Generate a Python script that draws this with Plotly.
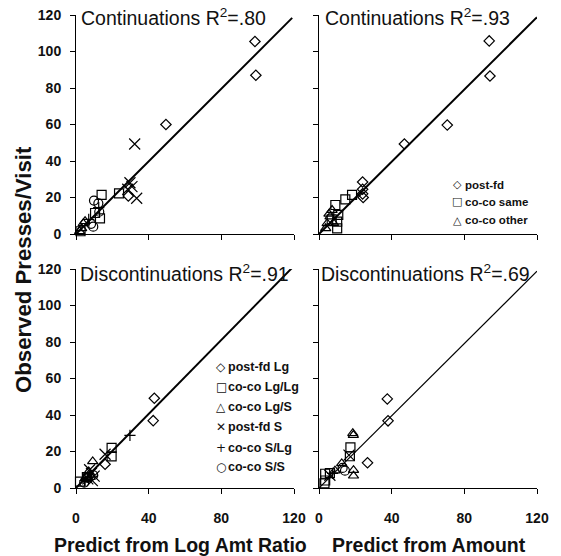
import plotly.graph_objects as go

# ---- data: predicted vs observed presses per visit ----
# Continuations, predicted from log amount ratio
cl_postfd_lg = ([98.5, 99.0, 49.5, 28.8], [105.5, 87.0, 60.0, 20.8])
cl_coco_lglg = ([14.1, 23.7, 13.2, 10.5, 2.5], [21.4, 22.3, 8.6, 11.5, 1.5])
cl_coco_lgs = ([4.0, 3.1, 5.0, 2.0], [5.8, 3.1, 7.0, 1.5])
cl_postfd_s = ([32.3, 29.7, 30.8, 33.4, 28.5], [49.3, 28.1, 26.0, 19.6, 24.5])
cl_coco_slg = ([12.5, 7.0], [14.5, 8.0])
cl_coco_ss = ([9.9, 12.3, 12.8, 9.5, 8.3], [18.3, 16.8, 12.2, 4.0, 5.6])

# Continuations, predicted from amount
ca_postfd = ([93.7, 94.1, 70.6, 47.0, 24.0, 24.0, 24.0, 24.3],
             [105.8, 86.6, 59.7, 49.3, 28.5, 24.5, 22.0, 20.0])
ca_coco_same = ([18.2, 14.5, 9.0, 10.6, 10.0, 10.0, 7.0],
                [21.4, 19.0, 15.9, 10.5, 6.8, 3.1, 8.0])
ca_coco_other = ([7.2, 6.1, 4.5, 3.7, 5.5, 8.0], [13.1, 9.5, 5.8, 3.1, 11.0, 6.0])

# Discontinuations, predicted from log amount ratio
dl_postfd_lg = ([43.1, 42.5, 16.0], [49.2, 36.9, 13.0])
dl_coco_lglg = ([19.6, 19.6, 2.2, 6.0], [22.0, 17.3, 3.5, 6.0])
dl_coco_lgs = ([9.2, 7.0, 5.5], [14.6, 9.0, 6.0])
dl_postfd_s = ([16.0, 8.5, 10.0, 6.5, 7.5, 9.0], [18.5, 8.0, 6.5, 5.0, 10.0, 4.0])
dl_coco_slg = ([29.7, 8.0, 5.0], [28.8, 6.0, 4.0])
dl_coco_ss = ([9.5, 6.5, 4.5], [7.0, 5.5, 3.0])

# Discontinuations, predicted from amount
da_postfd_lg = ([37.6, 38.0, 26.7], [48.8, 36.8, 13.8])
da_coco_lglg = ([17.3, 17.0, 3.4, 3.4, 6.0, 3.0], [22.3, 17.4, 7.8, 4.1, 8.2, 2.5])
da_coco_lgs = ([18.6, 18.9, 19.0, 19.0, 12.5, 8.8], [30.0, 29.0, 9.8, 6.7, 13.5, 9.5])
da_postfd_s = ([16.5, 6.0], [18.0, 7.0])
da_coco_slg = ([7.5], [8.0])
da_coco_ss = ([14.3, 13.0], [9.5, 11.0])

# regression lines (slope through origin, end of x extent)
fit_slopes = [0.995, 0.99, 1.014, 0.99]
fit_x_end = [119.0, 120.0, 118.7, 120.0]
fit_widths = [2.0, 2.0, 2.0, 1.2]

panel_titles = ["Continuations R<sup>2</sup>=.80", "Continuations R<sup>2</sup>=.93",
                "Discontinuations R<sup>2</sup>=.91", "Discontinuations R<sup>2</sup>=.69"]
y_ticks = [0, 20, 40, 60, 80, 100, 120]
x_ticks = [0, 40, 80, 120]

legend_top = ["post-fd", "co-co same", "co-co other"]
legend_bottom = ["post-fd Lg", "co-co Lg/Lg", "co-co Lg/S", "post-fd S", "co-co S/Lg", "co-co S/S"]

# ---- styling ----
W, H = 561, 556
FONT = "Liberation Sans, Arial, Helvetica, sans-serif"
SYM = {
    "diamond": dict(symbol="diamond-open", size=8),
    "square": dict(symbol="square-open", size=9),
    "triangle": dict(symbol="triangle-up-open", size=9),
    "x": dict(symbol="x-thin-open", size=11),
    "cross": dict(symbol="cross-thin-open", size=8),
    "circle": dict(symbol="circle-open", size=9),
}

def px(x):
    return x / W

def py(y):
    return 1 - y / H

fig = go.Figure()

panels = [
    ("x", "y", [(cl_postfd_lg, "diamond"), (cl_coco_lglg, "square"), (cl_coco_lgs, "triangle"),
                (cl_postfd_s, "x"), (cl_coco_slg, "cross"), (cl_coco_ss, "circle")]),
    ("x2", "y2", [(ca_postfd, "diamond"), (ca_coco_same, "square"), (ca_coco_other, "triangle")]),
    ("x3", "y3", [(dl_postfd_lg, "diamond"), (dl_coco_lglg, "square"), (dl_coco_lgs, "triangle"),
                  (dl_postfd_s, "x"), (dl_coco_slg, "cross"), (dl_coco_ss, "circle")]),
    ("x4", "y4", [(da_postfd_lg, "diamond"), (da_coco_lglg, "square"), (da_coco_lgs, "triangle"),
                  (da_postfd_s, "x"), (da_coco_slg, "cross"), (da_coco_ss, "circle")]),
]

for i, (xa, ya, series) in enumerate(panels):
    xe = fit_x_end[i]
    fig.add_trace(go.Scatter(
        x=[0, xe], y=[0, fit_slopes[i] * xe], mode="lines",
        line=dict(color="black", width=fit_widths[i]),
        xaxis=xa, yaxis=ya, showlegend=False, hoverinfo="skip", cliponaxis=False))
    for (xs, ys), kind in series:
        s = SYM[kind]
        fig.add_trace(go.Scatter(
            x=xs, y=ys, mode="markers", xaxis=xa, yaxis=ya, showlegend=False,
            cliponaxis=False,
            marker=dict(symbol=s["symbol"], size=s["size"], color="black",
                        line=dict(color="black", width=1.2))))

# panel domains in pixels -> paper
x_dom = {"L": [px(76), px(294)], "R": [px(319), px(537)]}
y_dom = {"T": [py(234), py(15)], "B": [py(488), py(269)]}

def xaxis(dom, anchor, labels):
    return dict(domain=dom, anchor=anchor, range=[0, 120], tickvals=x_ticks,
                showticklabels=labels, ticks="outside", ticklen=5, tickwidth=1,
                tickcolor="black", showline=True, linecolor="black", linewidth=1,
                showgrid=False, zeroline=False, ticklabelstandoff=12, automargin=False,
                tickfont=dict(family=FONT, size=14, color="#111", weight="bold"))

def yaxis(dom, anchor, labels):
    return dict(domain=dom, anchor=anchor, range=[0, 120], tickvals=y_ticks,
                showticklabels=labels, ticks="outside", ticklen=5, tickwidth=1,
                tickcolor="black", showline=True, linecolor="black", linewidth=1,
                showgrid=False, zeroline=False, ticklabelstandoff=6, automargin=False,
                tickfont=dict(family=FONT, size=14, color="#111", weight="bold"))

annotations = []
title_pos = [(79, 17), (323, 17), (78, 273), (319, 273)]
for t, (tx, ty) in zip(panel_titles, title_pos):
    annotations.append(dict(text=t, x=px(tx), y=py(ty), xref="paper", yref="paper",
                            xanchor="left", yanchor="middle", showarrow=False,
                            font=dict(family=FONT, size=19.5, color="#111")))

legend_syms_top = ["\u25C7", "\u25A1", "\u25B3"]
legend_syms_bottom = ["\u25C7", "\u25A1", "\u25B3", "\u2715", "+", "\u25CB"]
for label, sym, ly in zip(legend_top, legend_syms_top, [185, 202, 220]):
    annotations.append(dict(text=sym, x=px(457), y=py(ly), xref="paper", yref="paper",
                            xanchor="center", yanchor="middle", showarrow=False,
                            font=dict(family="DejaVu Sans", size=11, color="#111")))
    annotations.append(dict(text=label, x=px(463), y=py(ly), xref="paper", yref="paper",
                            xanchor="left", yanchor="middle", showarrow=False,
                            font=dict(family=FONT, size=11.5, color="#111", weight="bold")))
for label, sym, ly in zip(legend_bottom, legend_syms_bottom, [367, 387, 407, 427, 448, 467]):
    annotations.append(dict(text=sym, x=px(221), y=py(ly), xref="paper", yref="paper",
                            xanchor="center", yanchor="middle", showarrow=False,
                            font=dict(family="DejaVu Sans", size=12, color="#111")))
    annotations.append(dict(text=label, x=px(226), y=py(ly), xref="paper", yref="paper",
                            xanchor="left", yanchor="middle", showarrow=False,
                            font=dict(family=FONT, size=12.5, color="#111", weight="bold")))

# axis titles
annotations.append(dict(text="Observed Presses/Visit", x=px(23), y=py(270), xref="paper",
                        yref="paper", xanchor="center", yanchor="middle", textangle=-90,
                        showarrow=False, font=dict(family=FONT, size=22.2, color="#111", weight="bold")))
annotations.append(dict(text="Predict from Log Amt Ratio", x=px(180), y=py(545), xref="paper",
                        yref="paper", xanchor="center", yanchor="middle", showarrow=False,
                        font=dict(family=FONT, size=19.5, color="#111", weight="bold")))
annotations.append(dict(text="Predict from Amount", x=px(429), y=py(545), xref="paper",
                        yref="paper", xanchor="center", yanchor="middle", showarrow=False,
                        font=dict(family=FONT, size=19.5, color="#111", weight="bold")))

fig.update_layout(
    width=W, height=H, autosize=False,
    margin=dict(l=0, r=0, t=0, b=0),
    paper_bgcolor="white", plot_bgcolor="white",
    showlegend=False,
    xaxis=xaxis(x_dom["L"], "y", False), yaxis=yaxis(y_dom["T"], "x", True),
    xaxis2=xaxis(x_dom["R"], "y2", False), yaxis2=yaxis(y_dom["T"], "x2", False),
    xaxis3=xaxis(x_dom["L"], "y3", True), yaxis3=yaxis(y_dom["B"], "x3", True),
    xaxis4=xaxis(x_dom["R"], "y4", True), yaxis4=yaxis(y_dom["B"], "x4", False),
    annotations=annotations,
)

fig.write_html("out.html")
